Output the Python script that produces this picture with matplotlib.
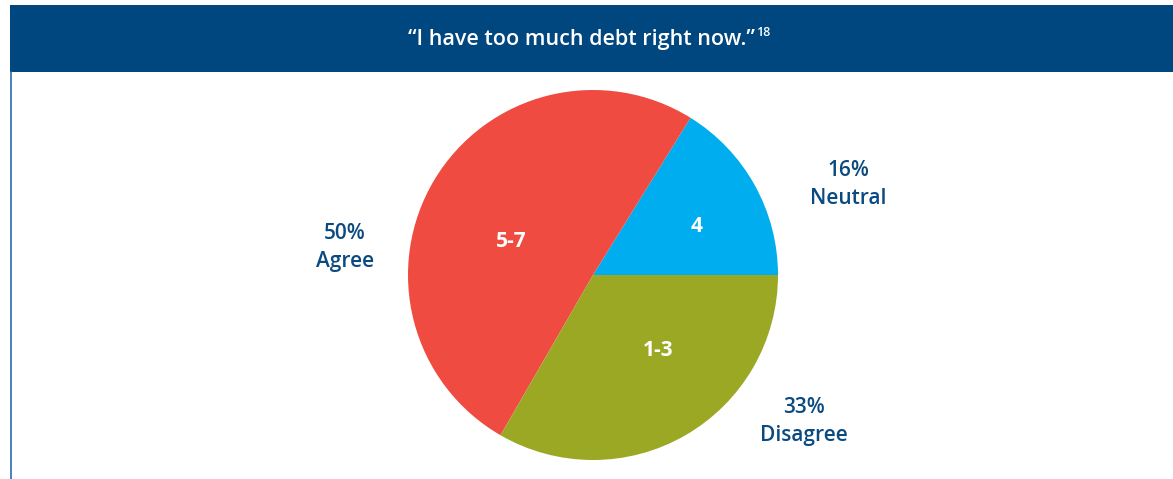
import matplotlib
matplotlib.use("Agg")
import matplotlib.pyplot as plt
from matplotlib.patches import Rectangle

plt.rcParams['font.family'] = ['Open Sans', 'DejaVu Sans']

title = "\u201cI have too much debt right now.\u201d"
footnote = "18"
categories = ["Neutral", "Agree", "Disagree"]
percents = [16, 50, 33]
scale_labels = ["4", "5-7", "1-3"]
colors = ["#00ADEF", "#EF4B41", "#9BA823"]

W, H = 1173, 479
fig = plt.figure(figsize=(W / 100, H / 100), dpi=100)
fig.patch.set_facecolor("white")

def fx(px):
    return px / W

def fy(py):
    return 1 - py / H

# banner
fig.patches.append(Rectangle((fx(10), fy(72)), fx(1173) - fx(10), fy(5) - fy(72),
                             transform=fig.transFigure, facecolor="#00467F",
                             edgecolor="none", zorder=0))
# left border line
fig.add_artist(plt.Line2D([fx(10.5), fx(10.5)], [fy(72), fy(479)],
                          transform=fig.transFigure, color="#2A6BB0", lw=1.2))

tt = fig.text(fx(581), fy(39), title, color="white", fontsize=15.5, ha="center",
              va="center", fontweight="semibold")
fig.canvas.draw()
bb = tt.get_window_extent(fig.canvas.get_renderer())
fig.text((bb.x1 + 2) / W, fy(33), footnote, color="white", fontsize=9, ha="left",
         va="center", fontweight="semibold")

# pie axes
cx, cy, r = 593, 275, 185
ax = fig.add_axes([fx(cx - r), fy(cy + r), 2 * r / W, 2 * r / H])
ax.pie(percents, colors=colors, startangle=0, counterclock=True,
       wedgeprops=dict(linewidth=0))
ax.set_xlim(-1, 1)
ax.set_ylim(-1, 1)
ax.set_aspect("equal")
ax.axis("off")

label_color = "#0B4A80"
outer_pos = [(1.38, 0.49), (-1.34, 0.15), (1.14, -0.79)]
inner_pos = [(0.56, 0.26), (-0.44, 0.18), (0.35, -0.41)]
for cat, p, sl, op, ip in zip(categories, percents, scale_labels, outer_pos, inner_pos):
    ax.text(op[0], op[1], f"{p}%\n{cat}", ha="center", va="center",
            color=label_color, fontsize=15, fontweight="semibold",
            linespacing=1.45, clip_on=False)
    ax.text(ip[0], ip[1], sl, ha="center", va="center", color="white",
            fontsize=15, fontweight="bold", clip_on=False)

fig.savefig("out.png", dpi=100, facecolor="white")
